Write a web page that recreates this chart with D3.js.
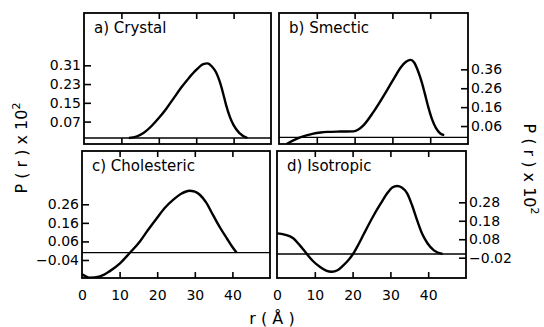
<!DOCTYPE html>
<html>
<head>
<meta charset="utf-8">
<script src="https://cdn.jsdelivr.net/npm/d3@7"></script>
<style>
  html, body { margin: 0; padding: 0; background: #fff; }
  svg { display: block; }
  text { font-family: "DejaVu Sans", sans-serif; fill: #000; }
</style>
</head>
<body>
<svg id="chart" width="544" height="327"></svg>
<script>
// ---------- DATA ----------
const xTickValues = [0, 10, 20, 30, 40];
const panelTitles = ["a) Crystal", "b) Smectic", "c) Cholesteric", "d) Isotropic"];

const crystalR = [12, 14, 16, 18, 20, 22, 24, 26, 28, 30, 31.9, 33, 34.2, 35.3, 36.3, 37.2, 38, 39, 40, 41.5, 43.7];
const crystalP = [0, 0.006, 0.022, 0.05, 0.085, 0.125, 0.17, 0.215, 0.255, 0.29, 0.315, 0.318, 0.305, 0.28, 0.24, 0.19, 0.14, 0.09, 0.055, 0.022, 0];
const crystalTicks = [0.07, 0.15, 0.23, 0.31];

const smecticR = [2, 3.8, 5.6, 7.5, 9.1, 11, 12.7, 16.2, 19.7, 21, 22.4, 25, 28.6, 30.5, 32.2, 33.6, 34.8, 35.8, 36.8, 37.8, 38.6, 39.5, 40.5, 41.5, 42.6, 43.7];
const smecticP = [-0.035, -0.016, 0, 0.012, 0.02, 0.026, 0.029, 0.031, 0.032, 0.042, 0.065, 0.135, 0.25, 0.315, 0.37, 0.4, 0.41, 0.395, 0.35, 0.29, 0.23, 0.16, 0.095, 0.05, 0.022, 0.012];
const smecticTicks = [0.06, 0.16, 0.26, 0.36];

const cholestericR = [0, 2, 4.8, 7.4, 10.1, 12.8, 15.4, 17.5, 19.9, 22, 24.3, 26.5, 28.5, 30, 31.4, 33, 34.9, 36.7, 38.5, 40, 41.1];
const cholestericP = [-0.117, -0.135, -0.128, -0.1, -0.058, 0, 0.06, 0.12, 0.185, 0.24, 0.285, 0.318, 0.333, 0.328, 0.31, 0.27, 0.2, 0.135, 0.077, 0.03, 0];
const cholestericTicks = [-0.04, 0.06, 0.16, 0.26];

const isotropicR = [0, 2, 4.3, 6, 7.9, 9.5, 11.5, 13, 14.5, 16, 17.6, 18.8, 20.1, 21.5, 23, 25.6, 27.5, 29.2, 30.5, 31.8, 33, 34.4, 35.8, 37.2, 38.5, 39.8, 41.5, 43.8];
const isotropicP = [0.112, 0.105, 0.085, 0.048, 0, -0.038, -0.072, -0.09, -0.096, -0.088, -0.06, -0.035, 0, 0.05, 0.11, 0.21, 0.275, 0.33, 0.36, 0.368, 0.36, 0.33, 0.26, 0.175, 0.105, 0.058, 0.02, 0];
const isotropicTicks = [-0.02, 0.08, 0.18, 0.28];

// ---------- LAYOUT ----------
const svg = d3.select("#chart");
const panels = [
  { title: panelTitles[0], r: crystalR, p: crystalP, ticks: crystalTicks, x0: 84, x1: 271, y0: 13, y1: 144, yDom: [-0.0256, 0.533], side: "left", showX: false },
  { title: panelTitles[1], r: smecticR, p: smecticP, ticks: smecticTicks, x0: 279, x1: 468, y0: 13, y1: 144, yDom: [-0.035, 0.658], side: "right", showX: false },
  { title: panelTitles[2], r: cholestericR, p: cholestericP, ticks: cholestericTicks, x0: 82, x1: 270, y0: 151, y1: 278, yDom: [-0.137, 0.547], side: "left", showX: true },
  { title: panelTitles[3], r: isotropicR, p: isotropicP, ticks: isotropicTicks, x0: 277, x1: 466, y0: 151, y1: 278, yDom: [-0.13, 0.558], side: "right", showX: true }
];

panels.forEach((pn, i) => {
  const x = d3.scaleLinear().domain([0, 50]).range([pn.x0, pn.x1]);
  const y = d3.scaleLinear().domain(pn.yDom).range([pn.y1, pn.y0]);
  const g = svg.append("g");

  const clipId = "clip" + i;
  svg.append("clipPath").attr("id", clipId)
    .append("rect").attr("x", pn.x0).attr("y", pn.y0)
    .attr("width", pn.x1 - pn.x0).attr("height", pn.y1 - pn.y0);

  // zero line
  g.append("line")
    .attr("x1", pn.x0).attr("x2", pn.x1)
    .attr("y1", y(0)).attr("y2", y(0))
    .attr("stroke", "#000").attr("stroke-width", 1.3);

  // curve
  const pts = pn.r.map((rv, k) => [rv, pn.p[k]]);
  g.append("path")
    .datum(pts)
    .attr("clip-path", `url(#${clipId})`)
    .attr("fill", "none")
    .attr("stroke", "#000")
    .attr("stroke-width", 2.4)
    .attr("stroke-linejoin", "round")
    .attr("d", d3.line().x(d => x(d[0])).y(d => y(d[1])).curve(d3.curveMonotoneX));

  // x axes (ticks inward, top & bottom)
  const innerX = xTickValues.filter(v => v > 0);
  const bottomAx = d3.axisTop(x).tickValues(innerX).tickSize(6).tickFormat("");
  const topAx = d3.axisBottom(x).tickValues(innerX).tickSize(6).tickFormat("");
  const bAx = g.append("g").attr("transform", `translate(0,${pn.y1})`).call(bottomAx);
  const tAx = g.append("g").attr("transform", `translate(0,${pn.y0})`).call(topAx);
  [bAx, tAx].forEach(a => {
    a.select(".domain").remove();
    a.selectAll("line").attr("stroke", "#000").attr("stroke-width", 1.6);
  });

  // y axis (ticks inward)
  let yAx;
  if (pn.side === "left") {
    yAx = g.append("g").attr("transform", `translate(${pn.x0},0)`)
      .call(d3.axisRight(y).tickValues(pn.ticks).tickSize(7).tickFormat(d3.format(".2f")));
    yAx.selectAll("text").attr("x", -3).attr("text-anchor", "end");
  } else {
    yAx = g.append("g").attr("transform", `translate(${pn.x1},0)`)
      .call(d3.axisLeft(y).tickValues(pn.ticks).tickSize(7).tickFormat(d3.format(".2f")));
    yAx.selectAll("text").attr("x", 3).attr("text-anchor", "start");
  }
  yAx.select(".domain").remove();
  yAx.selectAll("line").attr("stroke", "#000").attr("stroke-width", 1.6);
  yAx.selectAll("text")
    .text(d => d3.format(".2f")(d).replace("-", "\u2212"))
    .attr("font-size", 14).attr("font-family", "DejaVu Sans, sans-serif").attr("fill", "#000");

  // x tick labels
  if (pn.showX) {
    const lab = g.append("g").attr("transform", `translate(0,${pn.y1})`)
      .call(d3.axisBottom(x).tickValues(xTickValues).tickSize(0).tickPadding(12));
    lab.select(".domain").remove();
    lab.selectAll("text").attr("font-size", 14).attr("font-family", "DejaVu Sans, sans-serif").attr("fill", "#000");
  }

  // frame
  g.append("rect")
    .attr("x", pn.x0).attr("y", pn.y0)
    .attr("width", pn.x1 - pn.x0).attr("height", pn.y1 - pn.y0)
    .attr("fill", "none").attr("stroke", "#000").attr("stroke-width", 1.8);

  // title
  g.append("text")
    .attr("x", pn.x0 + 10).attr("y", pn.y0 + 20)
    .attr("font-size", 15)
    .text(pn.title);
});

// y-axis titles
function yTitle(cx, cy, rot) {
  const t = svg.append("text")
    .attr("transform", `translate(${cx},${cy}) rotate(${rot})`)
    .attr("text-anchor", "middle")
    .attr("font-size", 16);
  t.append("tspan").text("P ( r ) x 10");
  t.append("tspan").attr("dy", -7).attr("font-size", 11).text("2");
}
yTitle(27, 148, -90);
yTitle(524, 169, 90);

// x-axis title
svg.append("text")
  .attr("x", 272).attr("y", 324)
  .attr("text-anchor", "middle")
  .attr("font-size", 16)
  .text("r ( \u00C5 )");
</script>
</body>
</html>
